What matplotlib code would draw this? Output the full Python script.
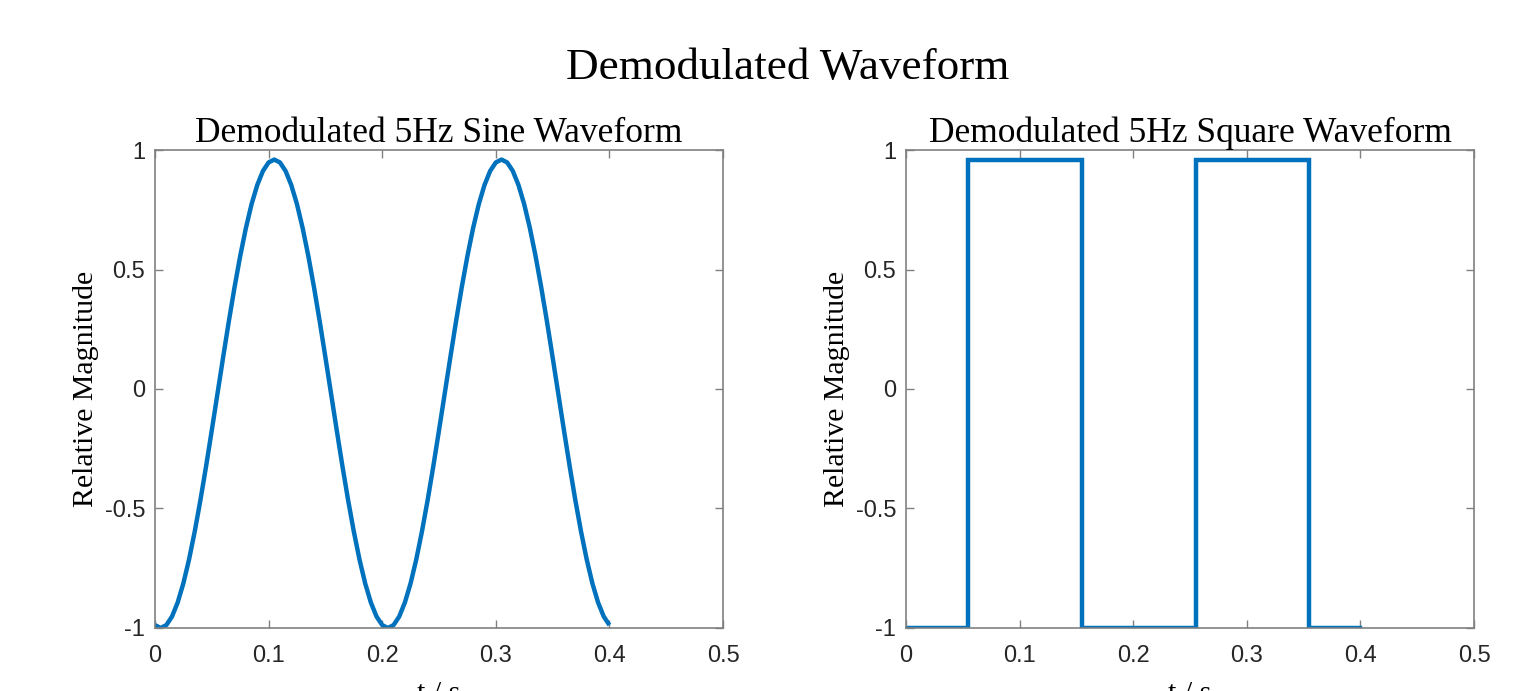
# Demodulated waveform figure (sine and square, 5 Hz)

import numpy as np
import matplotlib
matplotlib.use('Agg')
import matplotlib.pyplot as plt

plt.rcParams['axes.unicode_minus'] = False

# ---- data ----
t_sine = np.linspace(0, 0.4, 81)
y_sine = [-0.988,
          -1.0, -0.988, -0.952, -0.893, -0.813, -0.713, -0.596, -0.465, -0.323, -0.173,
          -0.02, 0.133, 0.283, 0.425, 0.556, 0.673, 0.773, 0.853, 0.912, 0.948, 0.96,
          0.948, 0.912, 0.853, 0.773, 0.673, 0.556, 0.425, 0.283, 0.133, -0.02,
          -0.173, -0.323, -0.465, -0.596, -0.713, -0.813, -0.893, -0.952, -0.988, -1.0,
          -0.988, -0.952, -0.893, -0.813, -0.713, -0.596, -0.465, -0.323, -0.173, -0.02,
          0.133, 0.283, 0.425, 0.556, 0.673, 0.773, 0.853, 0.912, 0.948, 0.96,
          0.948, 0.912, 0.853, 0.773, 0.673, 0.556, 0.425, 0.283, 0.133, -0.02,
          -0.173, -0.323, -0.465, -0.596, -0.713, -0.813, -0.893, -0.952, -0.988]

t_square = [0, 0.055, 0.055, 0.155, 0.155, 0.255, 0.255, 0.355, 0.355, 0.4]
y_square = [-1, -1, 0.96, 0.96, -1, -1, 0.96, 0.96, -1, -1]

x_ticks = [0, 0.1, 0.2, 0.3, 0.4, 0.5]
x_labels = ['0', '0.1', '0.2', '0.3', '0.4', '0.5']
y_ticks = [-1, -0.5, 0, 0.5, 1]
y_labels = ['-1', '-0.5', '0', '0.5', '1']

titles = ['Demodulated 5Hz Sine Waveform', 'Demodulated 5Hz Square Waveform']

# ---- figure ----
fig = plt.figure(figsize=(15.39, 6.91), dpi=100)
fig.text(0.512, 0.902, 'Demodulated Waveform', ha='center', va='center',
         family='Liberation Serif', fontsize=32.5)

serif = 'Liberation Serif'
sans = 'Liberation Sans'
line_col = '#0072BD'
axis_col = '#808080'

ax1 = fig.add_axes([0.1007, 0.0912, 0.3691, 0.6917])
ax2 = fig.add_axes([0.5887, 0.0912, 0.3691, 0.6917])

ax1.plot(t_sine, y_sine, color=line_col, lw=3.2, solid_capstyle='butt')
ax2.plot(t_square, y_square, color=line_col, lw=3.2, solid_joinstyle='miter')

for ax, title in zip([ax1, ax2], titles):
    ax.set_xlim(0, 0.5)
    ax.set_ylim(-1, 1)
    ax.set_xticks(x_ticks)
    ax.set_xticklabels(x_labels, family=sans, fontsize=17, color='#262626')
    ax.set_yticks(y_ticks)
    ax.set_yticklabels(y_labels, family=sans, fontsize=17, color='#262626')
    ax.tick_params(direction='in', top=True, right=True, length=6,
                   width=1, color=axis_col)
    ax.tick_params(axis='x', pad=12)
    ax.tick_params(axis='y', pad=7)
    for sp in ax.spines.values():
        sp.set_color(axis_col)
        sp.set_linewidth(1.2)
    ax.set_title(title, family=serif, fontsize=25.5, pad=6)
    ax.set_ylabel('Relative Magnitude', family=serif, fontsize=21.5, labelpad=4)
    ax.set_xlabel('t / s', family=serif, fontsize=21.5, labelpad=10)

fig.savefig('out.png', dpi=100)
